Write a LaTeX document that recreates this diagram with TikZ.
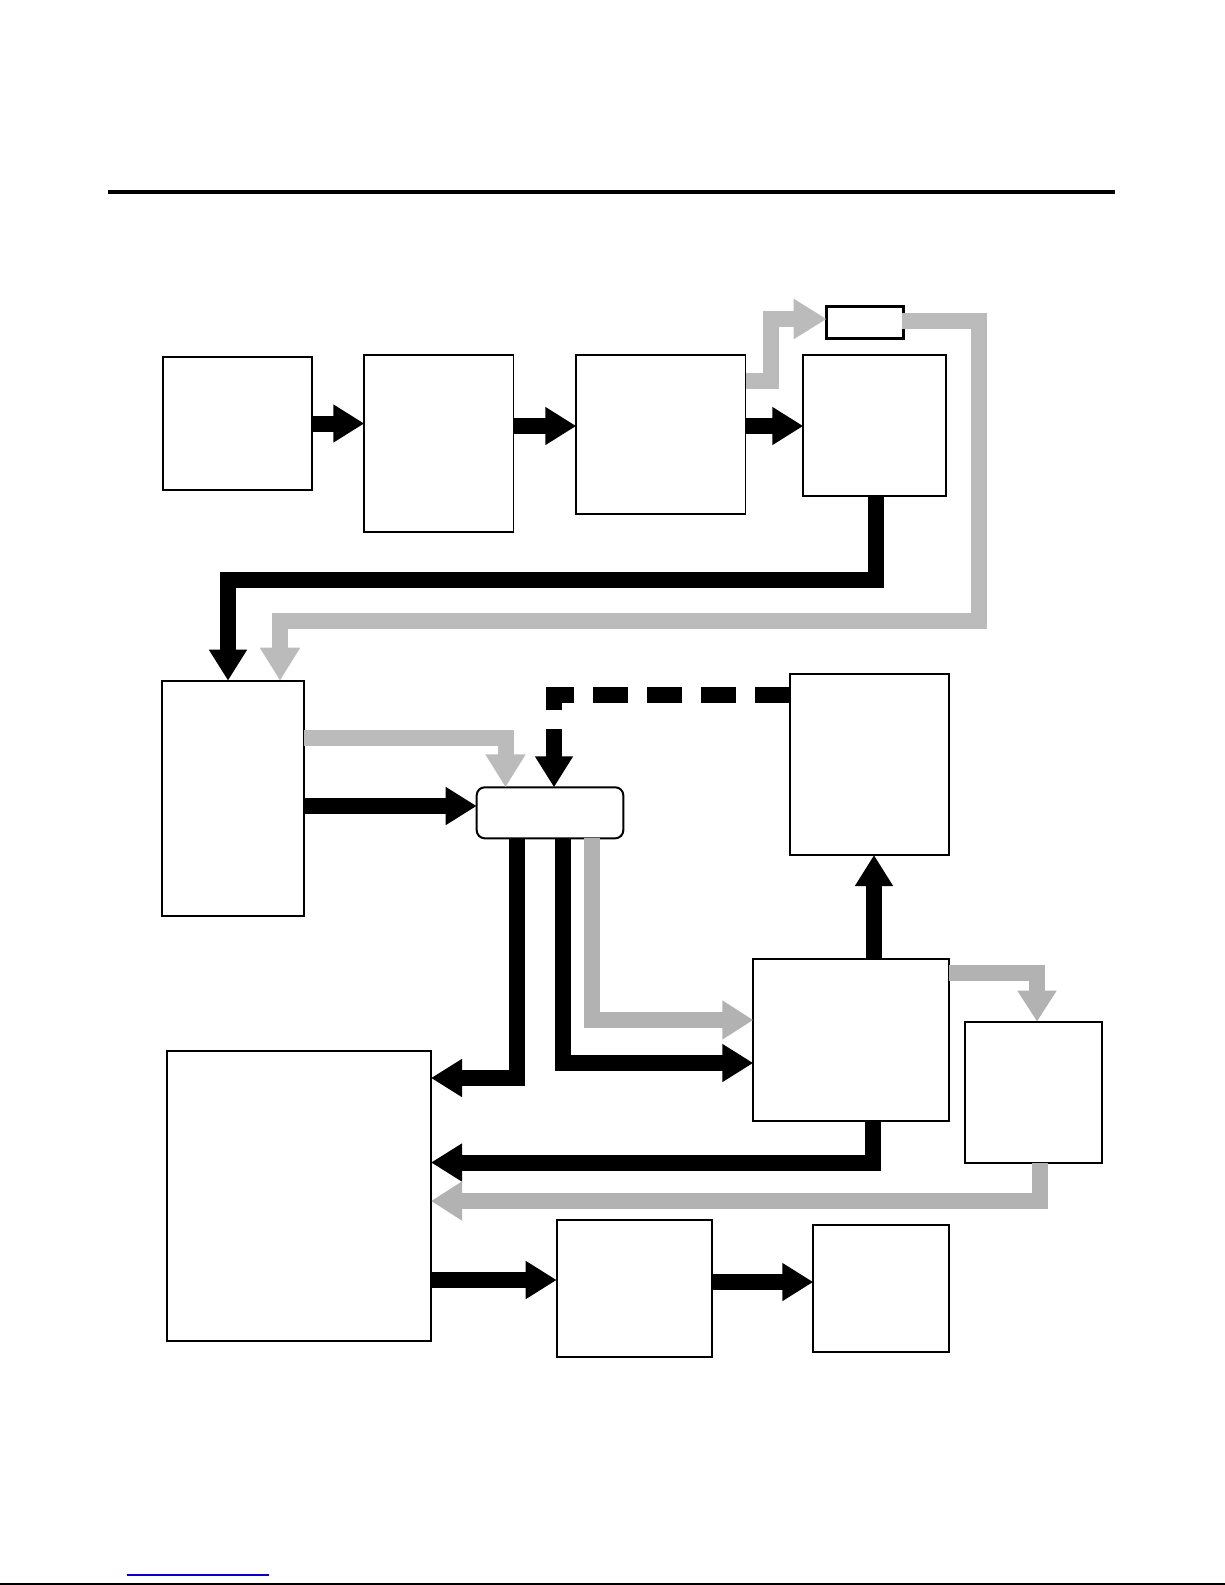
\documentclass[tikz,border=0pt]{standalone}
\usetikzlibrary{arrows.meta,calc}
\definecolor{gA}{HTML}{BBBBBB}
\definecolor{gB}{HTML}{B2B2B2}
\definecolor{linkblue}{HTML}{0000CC}
\tikzset{
  blockbox/.style={draw=black,line width=1.8pt,minimum width=#1,inner sep=0pt,outer sep=0pt},
  blk/.style={line width=16pt,draw=black,line join=miter,-{Triangle[length=31pt,width=36pt]}},
  gry/.style={line width=16pt,draw=gB,line join=miter,-{Triangle[length=31pt,width=37pt,fill=gB]}},
  gryA/.style={line width=16pt,draw=gA,line join=miter,-{Triangle[length=33pt,width=38pt,fill=gA]}},
}
\begin{document}
\begin{tikzpicture}[x=1pt,y=-1pt]
\useasboundingbox (0,0) rectangle (1225,1585);
% rules
\draw[line width=4pt] (108,192) -- (1115,192);
\draw[line width=1.2pt,linkblue] (127.3,1575) -- (268.7,1575);
\draw[line width=1.6pt] (0,1584.2) -- (1225,1584.2);
% boxes
\node[blockbox=149pt,minimum height=133.6pt] (A) at (237.2,423.5) {};
\node[blockbox=149.1pt,minimum height=176.4pt] (B) at (438.85,443.5) {};
\node[blockbox=169.2pt,minimum height=158.7pt] (C) at (660.9,434.65) {};
\node[blockbox=142.4pt,minimum height=140.7pt] (D) at (874.5,425.65) {};
\node[blockbox=76.6pt,minimum height=31.6pt,line width=2.6pt] (S) at (865,322.5) {};
\node[blockbox=142.3pt,minimum height=235.3pt] (E) at (232.85,798.35) {};
\node[blockbox=146.6pt,minimum height=51pt,rounded corners=8pt,line width=2pt] (F) at (550,812.8) {};
\node[blockbox=159.3pt,minimum height=181pt] (G) at (869.65,764.5) {};
\node[blockbox=196pt,minimum height=161.7pt] (H) at (851.3,1040.15) {};
\node[blockbox=137.3pt,minimum height=141pt] (I) at (1033.65,1092.2) {};
\node[blockbox=263.7pt,minimum height=290pt] (J) at (299.15,1195.7) {};
\node[blockbox=155pt,minimum height=136.7pt] (K) at (634.2,1288.35) {};
\node[blockbox=135.3pt,minimum height=126.7pt] (L) at (880.95,1288.35) {};
\coordinate (loopR) at (978.7,621);
\coordinate (dturn) at (876,580);
% top row
\draw[blk] (A.east) -- (A.east -| B.west);
\draw[blk] ([yshift=17.5pt]B.east) -- ([yshift=17.5pt]B.east -| C.west);
\draw[blk] ([yshift=8.65pt]C.east) -- ([yshift=8.65pt]C.east -| D.west);
\draw[gryA] ([yshift=53.65pt]C.east) -- ++(25.5,0) |- ([yshift=3.5pt]S.west);
\draw[gryA] ([xshift=-1pt,yshift=1.5pt]S.east) -| (loopR) -| ([xshift=47.15pt]E.north);
\draw[blk] (D.south -| dturn) -- (dturn) -| ([xshift=-4.85pt]E.north);
% middle
\draw[gryA] ([yshift=60.35pt]E.east) -| ([xshift=-44.5pt]F.north);
\draw[blk] ([yshift=-7.65pt]E.east) -- ([yshift=-7.65pt]E.east -| F.west);
\draw[blk,dash pattern=on 35.5pt off 18.5pt] ([yshift=69.8pt]G.west) -| ([xshift=4pt]F.north);
\draw[blk] ([xshift=-33.3pt]F.south) |- ([yshift=117.7pt]J.east);
\draw[blk] ([xshift=12.5pt]F.south) |- ([yshift=-22.85pt]H.west);
\draw[gry] ([xshift=42pt]F.south) |- ([yshift=20.15pt]H.west);
\draw[blk] ([xshift=22.7pt]H.north) -- ([xshift=22.7pt]H.north |- G.south);
\draw[gry] ([yshift=67.65pt]H.east) -| ([xshift=3.35pt]I.north);
\draw[blk] ([xshift=21.7pt]H.south) |- ([yshift=33.2pt]J.east);
\draw[gry] ([xshift=6.35pt]I.south) |- ([yshift=-5.3pt]J.east);
% bottom
\draw[blk] ([yshift=-84.3pt]J.east) -- ([yshift=-84.3pt]J.east -| K.west);
\draw[blk] ([yshift=6.35pt]K.east) -- ([yshift=6.35pt]K.east -| L.west);
\end{tikzpicture}
\end{document}
